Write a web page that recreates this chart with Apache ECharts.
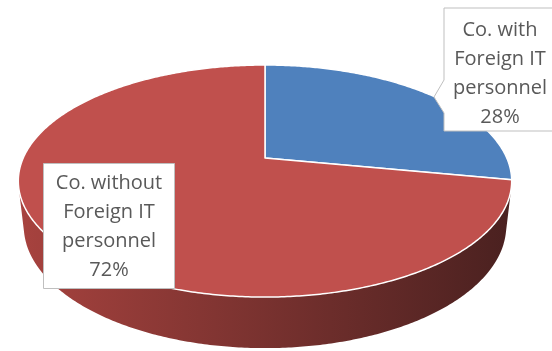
<!DOCTYPE html>
<html>
<head>
<meta charset="utf-8">
<script src="https://cdn.jsdelivr.net/npm/echarts@6/dist/echarts.min.js"></script>
<style>
  html, body { margin: 0; padding: 0; background: #fff; }
  #chart { width: 552px; height: 351px; }
</style>
</head>
<body>
<div id="chart"></div>
<script>
// Share of companies employing foreign IT personnel
const categories = ['Co. with\nForeign IT\npersonnel', 'Co. without\nForeign IT\npersonnel'];
const values = [28, 72];
const sliceColors = ['#4f81bd', '#c0504d'];
const wallStops = [
  ['#3a5f8c', '#1f3350'],
  ['#a9433f', '#48201f']
];

const total = values.reduce((a, b) => a + b, 0);

// perspective camera for a tilted disc
const cam = { cx: 265, cy: 158, F: 1080.8, D: 4.47, s: 0.461, c: 0.887, h: 0.21 };

function proj(theta, z) {
  const x = Math.sin(theta), y = Math.cos(theta);
  const Yp = y * cam.s + z * cam.c;
  const Zp = cam.D + y * cam.c - z * cam.s;
  return [cam.cx + cam.F * x / Zp, cam.cy - cam.F * Yp / Zp];
}

function arc(a0, a1, z) {
  const pts = [];
  const n = Math.max(2, Math.ceil(Math.abs(a1 - a0) / 0.01));
  for (let i = 0; i <= n; i++) pts.push(proj(a0 + (a1 - a0) * i / n, z));
  return pts;
}

// walls facing the camera: cos(theta) < -1/(D*c)
const frontLim = Math.acos(-1 / (cam.D * cam.c));
const frontA = frontLim, frontB = 2 * Math.PI - frontLim;

const starts = [];
let acc = 0;
values.forEach(v => { starts.push(acc / total * 2 * Math.PI); acc += v; });

const chart = echarts.init(document.getElementById('chart'), null, { renderer: 'canvas' });

const left = proj(frontB, 0)[0] - 10, right = proj(frontA, 0)[0] + 10;

chart.setOption({
  animation: false,
  backgroundColor: '#ffffff',
  series: [{
    type: 'custom',
    coordinateSystem: 'none',
    data: values.map((v, i) => ({ name: categories[i], value: v })),
    renderItem: function (params, api) {
      const i = params.dataIndex;
      const a0 = starts[i];
      const a1 = a0 + values[i] / total * 2 * Math.PI;
      const children = [];
      const w0 = Math.max(a0, frontA), w1 = Math.min(a1, frontB);
      if (w1 > w0) {
        const top = arc(w0, w1, 0);
        const bot = arc(w1, w0, -cam.h);
        children.push({
          type: 'polygon',
          shape: { points: top.concat(bot) },
          style: {
            fill: new echarts.graphic.LinearGradient(left, 0, right, 0, [
              { offset: 0, color: wallStops[i][0] },
              { offset: 1, color: wallStops[i][1] }
            ], true)
          }
        });
      }
      const pts = [proj(0, 0).slice()];
      pts[0] = [cam.cx, cam.cy];
      children.push({
        type: 'polygon',
        shape: { points: pts.concat(arc(a0, a1, 0)) },
        style: { fill: sliceColors[i], stroke: '#ffffff', lineWidth: 1.5, lineJoin: 'round' }
      });
      return { type: 'group', children: children };
    }
  }],
  graphic: [
    {
      type: 'polygon',
      shape: { points: [[444, 8], [553, 8], [553, 131], [444, 131], [444, 113], [434, 97], [444, 80]] },
      style: { fill: '#ffffff', stroke: '#bfbfbf', lineWidth: 1 },
      z: 10
    },
    {
      type: 'text',
      x: 500, y: 74,
      style: {
        text: categories[0] + '\n' + values[0] + '%',
        font: '20px "Open Sans"', fill: '#595959',
        align: 'center', verticalAlign: 'middle', lineHeight: 29
      },
      z: 11
    },
    {
      type: 'rect',
      shape: { x: 43.5, y: 163.5, width: 131, height: 125 },
      style: { fill: '#ffffff', stroke: '#bfbfbf', lineWidth: 1 },
      z: 10
    },
    {
      type: 'text',
      x: 109, y: 227,
      style: {
        text: categories[1] + '\n' + values[1] + '%',
        font: '20px "Open Sans"', fill: '#595959',
        align: 'center', verticalAlign: 'middle', lineHeight: 29
      },
      z: 11
    }
  ]
});
</script>
</body>
</html>
